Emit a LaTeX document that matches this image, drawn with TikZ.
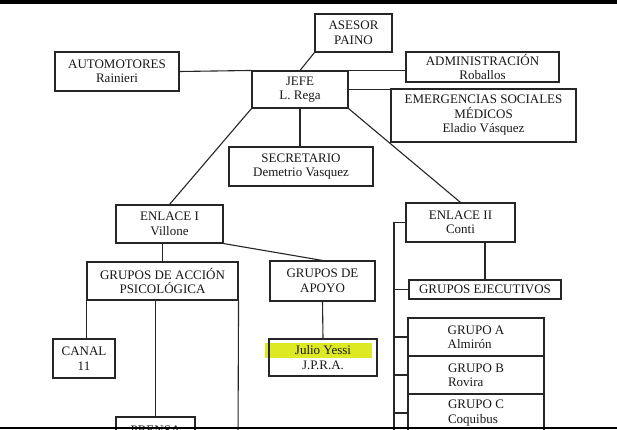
\documentclass[tikz,border=0pt]{standalone}
\usepackage{fontspec}
\setmainfont{Liberation Serif}
\usepackage{tikz}

\begin{document}
\begin{tikzpicture}[x=1pt,y=1pt]
		\tikzstyle{every node}+=[inner sep=0pt]
		\tikzstyle{box}=[draw=black!85, line width=1.1pt, align=center, text=black!90,
			font=\fontsize{13}{14.5}\selectfont]
		\tikzstyle{wire}=[black!85, line width=1.1pt]
		\useasboundingbox (0,0) rectangle (617,-429);
		\fill [white] (0,0) rectangle (617,-429);
		% top row
		\node [box, minimum width=77, minimum height=38] (asesor) at (353.5,-33) {ASESOR\\PAINO};
		\node [box, minimum width=124, minimum height=39] (auto) at (117,-71.5) {AUTOMOTORES\\Rainieri};
		\node [box, minimum width=96, minimum height=37] (jefe) at (300,-89.5) {JEFE\\L. Rega};
		\node [box, minimum width=153, minimum height=30] (admin) at (482.5,-67) {ADMINISTRACIÓN\\Roballos};
		\node [box, minimum width=185, minimum height=53] (emerg) at (483.5,-115.5) {EMERGENCIAS SOCIALES\\MÉDICOS\\Eladio Vásquez};
		\node [box, minimum width=144, minimum height=39] (sec) at (301,-166.5) {SECRETARIO\\Demetrio Vasquez};
		\draw [wire] (auto.east) -- (jefe.north west);
		\draw [wire] (jefe.north east) -- (jefe.north east -| admin.west);
		\draw [wire] (asesor.south west) -- (jefe.north);
		\draw [wire] (jefe.east) -- (jefe.east -| emerg.west);
		\draw [wire] (jefe.south) -- (jefe.south |- sec.north);
		% enlace I
		\node [box, minimum width=107, minimum height=38] (enl1) at (169.5,-224) {ENLACE I\\Villone};
		\node [box, minimum width=151, minimum height=38] (gap) at (162.5,-281) {GRUPOS DE ACCIÓN\\PSICOLÓGICA};
		\node [box, minimum width=105, minimum height=40] (apoyo) at (322.5,-281) {GRUPOS DE\\APOYO};
		\node [box, minimum width=62, minimum height=39] (canal) at (84,-358.5) {CANAL\\11};
		\fill [yellow!85!green!90!white] (265,-343) rectangle (372,-358);
		\node [box, minimum width=108, minimum height=37] (julio) at (323,-357.5) {Julio Yessi\\J.P.R.A.};
		\node [box, minimum width=79, minimum height=40] (prensa) at (155.5,-437) {PRENSA\\ };
		\coordinate (gapend) at (238,-440);
		\draw [wire] (jefe.south west) -- (enl1.north);
		\draw [wire] (gap.north) -- (gap.north |- enl1.south);
		\draw [wire] (enl1.south east) -- (apoyo.north);
		\draw [wire] (gap.south west) -- (gap.south west |- canal.north);
		\draw [wire] (prensa.north) -- (prensa.north |- gap.south);
		\draw [wire] (gap.south east) -- (gapend);
		\draw [wire] (apoyo.south) -- (julio.north);
		% enlace II
		\node [box, minimum width=109, minimum height=39] (enl2) at (460.5,-222.5) {ENLACE II\\Conti};
		\node [box, minimum width=152, minimum height=19] (ejec) at (485,-289.5) {GRUPOS EJECUTIVOS};
		\node [box, minimum width=136, minimum height=38, align=left] (grpa) at (476,-337) {GRUPO A\\Almirón};
		\node [box, minimum width=136, minimum height=38, align=left] (grpb) at (476,-375) {GRUPO B\\Rovira};
		\node [box, minimum width=136, minimum height=38, align=left] (grpc) at (476,-413) {GRUPO C\\Coquibus};
		\coordinate (bus) at (394,-222.5);
		\coordinate (busend) at (394,-440);
		\draw [wire] (jefe.south east) -- (enl2.north);
		\draw [wire] (ejec.north) -- (ejec.north |- enl2.south);
		\draw [wire] (enl2.west) -- (bus) -- (busend);
		\draw [wire] (ejec.west) -- (ejec.west -| bus);
		\draw [wire] (grpa.west) -- (grpa.west -| bus);
		\draw [wire] (grpb.west) -- (grpb.west -| bus);
		\draw [wire] (grpc.west) -- (grpc.west -| bus);
		% scan borders
		\fill [black] (0,0) rectangle (617,-4);
		\fill [black] (0,-427) rectangle (617,-429);
	\end{tikzpicture}
\end{document}
